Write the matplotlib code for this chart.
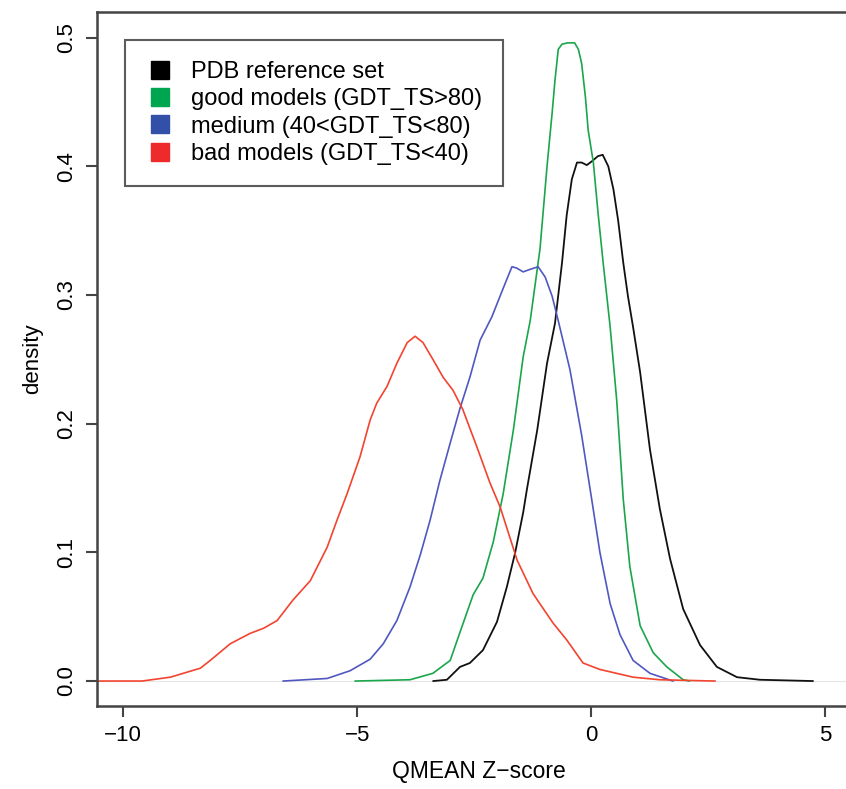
import matplotlib
matplotlib.use("Agg")
import matplotlib.pyplot as plt
from matplotlib.lines import Line2D

plt.rcParams['font.family'] = ['Liberation Sans', 'DejaVu Sans']

# density curves
red_x = [-10.6, -9.6, -8.99, -8.35, -8.14, -7.71, -7.29, -7.0, -6.71, -6.37, -6.0, -5.64,
         -5.43, -5.21, -4.94, -4.72, -4.58, -4.36, -4.15, -3.93, -3.76, -3.59, -3.38, -3.16,
         -2.95, -2.74, -2.44, -2.16, -1.94, -1.58, -1.24, -0.81, -0.52, -0.17, 0.19, 0.90,
         1.47, 2.65]
red_d = [0, 0, 0.003, 0.010, 0.016, 0.029, 0.037, 0.041, 0.047, 0.063, 0.078, 0.104,
         0.125, 0.146, 0.174, 0.203, 0.216, 0.229, 0.247, 0.263, 0.268, 0.263, 0.250, 0.236,
         0.226, 0.211, 0.182, 0.154, 0.135, 0.094, 0.068, 0.045, 0.032, 0.014, 0.009, 0.003,
         0.001, 0]

blue_x = [-6.58, -5.64, -5.15, -4.72, -4.44, -4.15, -3.87, -3.65, -3.44, -3.23, -3.01, -2.80,
          -2.59, -2.37, -2.12, -1.88, -1.69, -1.59, -1.45, -1.30, -1.13, -0.98, -0.83, -0.70,
          -0.45, -0.2, 0.02, 0.19, 0.41, 0.62, 0.90, 1.26, 1.75]
blue_d = [0, 0.002, 0.008, 0.017, 0.029, 0.047, 0.073, 0.098, 0.125, 0.156, 0.185, 0.212,
          0.236, 0.265, 0.283, 0.305, 0.322, 0.321, 0.318, 0.320, 0.322, 0.314, 0.299, 0.280,
          0.242, 0.191, 0.140, 0.100, 0.060, 0.036, 0.016, 0.006, 0]

green_x = [-5.04, -3.87, -3.38, -3.01, -2.80, -2.52, -2.31, -2.09, -1.88, -1.66, -1.45, -1.30,
           -1.09, -0.94, -0.83, -0.77, -0.70, -0.62, -0.5, -0.35, -0.27, -0.20, -0.12, -0.06,
           0.05, 0.15, 0.26, 0.41, 0.55, 0.69, 0.83, 1.05, 1.33, 1.62, 1.97, 2.1]
green_d = [0, 0.001, 0.006, 0.016, 0.038, 0.067, 0.080, 0.108, 0.145, 0.195, 0.252, 0.280,
           0.336, 0.400, 0.442, 0.467, 0.491, 0.495, 0.496, 0.496, 0.491, 0.480, 0.454, 0.428,
           0.403, 0.364, 0.325, 0.275, 0.218, 0.141, 0.089, 0.043, 0.022, 0.011, 0.001, 0]

black_x = [-3.37, -3.08, -2.80, -2.59, -2.31, -2.01, -1.80, -1.62, -1.45, -1.37, -1.15, -0.94,
           -0.77, -0.62, -0.52, -0.41, -0.30, -0.20, -0.09, 0.02, 0.15, 0.25, 0.37, 0.48,
           0.58, 0.69, 0.79, 0.90, 1.05, 1.26, 1.47, 1.69, 1.97, 2.33, 2.69, 3.12, 3.61, 4.74]
black_d = [0, 0.001, 0.011, 0.014, 0.024, 0.046, 0.073, 0.100, 0.131, 0.149, 0.195, 0.247,
           0.278, 0.325, 0.362, 0.390, 0.403, 0.403, 0.401, 0.404, 0.408, 0.409, 0.400, 0.382,
           0.358, 0.325, 0.299, 0.275, 0.240, 0.180, 0.134, 0.095, 0.056, 0.028, 0.011, 0.003,
           0.001, 0]

labels = ["PDB reference set", "good models (GDT_TS>80)",
          "medium (40<GDT_TS<80)", "bad models (GDT_TS<40)"]
line_cols = ["#111111", "#1aa64a", "#5058c0", "#f2442f"]
box_cols = ["#000000", "#00a550", "#3350a8", "#ee2a2a"]

fig = plt.figure(figsize=(8.46, 7.89), dpi=100)
ax = fig.add_axes([97/846, 83/789, 763/846, 694/789])

ax.axhline(0, color="#e6e6e6", lw=0.8, zorder=0)
ax.plot(black_x, black_d, color=line_cols[0], lw=1.3)
ax.plot(green_x, green_d, color=line_cols[1], lw=1.2)
ax.plot(blue_x, blue_d, color=line_cols[2], lw=1.2)
ax.plot(red_x, red_d, color=line_cols[3], lw=1.2)

ax.set_xlim(-10.56, 5.75)
ax.set_ylim(-0.0194, 0.520)
ax.set_xticks([-10, -5, 0, 5])
ax.set_yticks([0.0, 0.1, 0.2, 0.3, 0.4, 0.5])
ax.set_yticklabels(["0.0", "0.1", "0.2", "0.3", "0.4", "0.5"], rotation=90, va="center")
ax.tick_params(axis="both", direction="out", length=8, width=1.5, color="#444444",
               labelsize=16, pad=6)
for s in ax.spines.values():
    s.set_color("#444444")
    s.set_linewidth(1.8)

ax.set_xlabel("QMEAN Z\u2212score", fontsize=16.5, labelpad=10)
ax.set_ylabel("density", fontsize=16, labelpad=10)

handles = [Line2D([], [], marker="s", linestyle="none", markersize=13, color=c) for c in box_cols]
leg = ax.legend(handles, labels, loc="upper left", bbox_to_anchor=(125/846, 1 - 40/789),
                bbox_transform=fig.transFigure, fontsize=17, frameon=True, fancybox=False,
                borderpad=0.9, labelspacing=0.22, handlelength=1.2, handletextpad=0.7,
                borderaxespad=0)
leg.get_frame().set_edgecolor("#333333")
leg.get_frame().set_linewidth(1.5)

fig.savefig("out.png", dpi=100)
